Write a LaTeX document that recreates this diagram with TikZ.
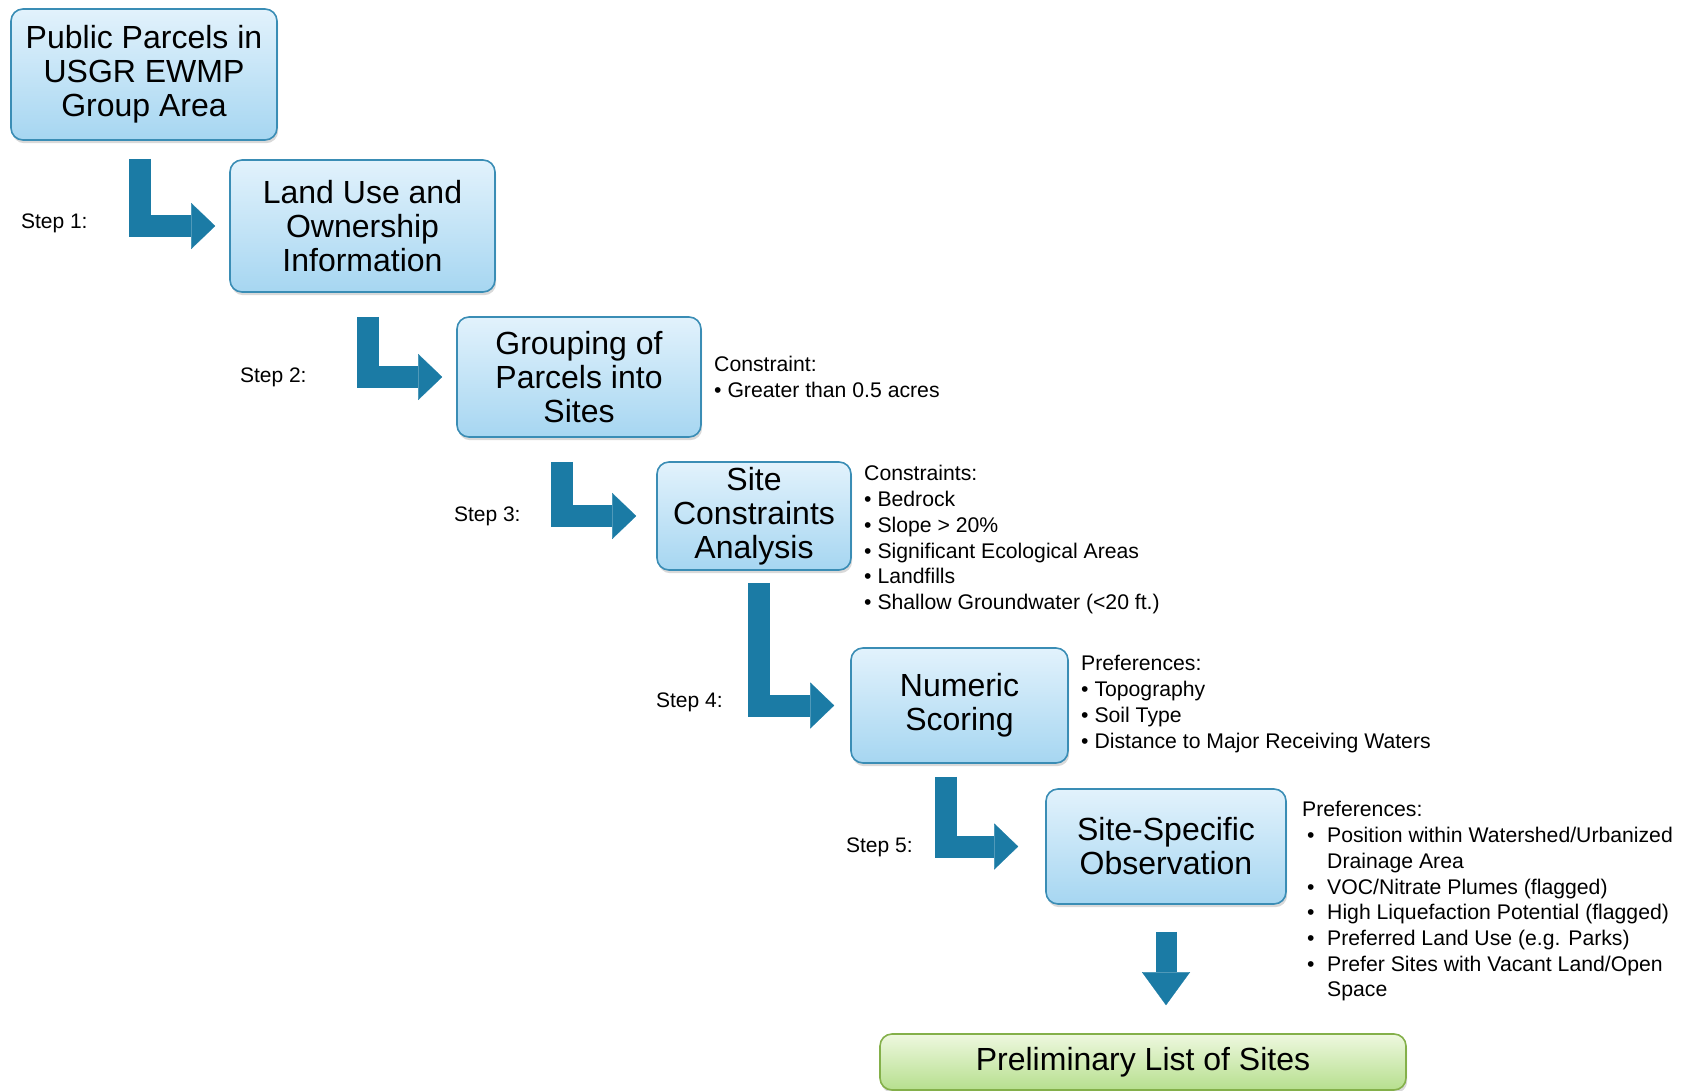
\documentclass[tikz,border=0pt]{standalone}
\usepackage{fontspec}
\setmainfont{Liberation Sans}
\usetikzlibrary{positioning,arrows.meta,shadows}

\definecolor{boxedge}{HTML}{3A8DB5}
\definecolor{boxtop}{HTML}{E2F2FC}
\definecolor{boxbot}{HTML}{A6D6F1}
\definecolor{arrowblue}{HTML}{1B7BA5}
\definecolor{greenedge}{HTML}{84B04A}
\definecolor{greentop}{HTML}{EEF8DF}
\definecolor{greenbot}{HTML}{B6DF8E}

% hanging bullet for the last list
\newcommand{\pitem}{\hspace*{2.5pt}\makebox[10pt][l]{\textbullet}}
\newcommand{\pcont}{\hspace*{12.5pt}}

\begin{document}
\begin{tikzpicture}[
  x=0.5pt, y=-0.5pt,
  stepbox/.style={rectangle, rounded corners=6pt, draw=boxedge, line width=0.8pt,
                  top color=boxtop, bottom color=boxbot, align=center, inner sep=2pt,
                  font=\fontsize{16}{17}\selectfont,
                  drop shadow={shadow xshift=0.6pt, shadow yshift=-1.6pt, opacity=0.3}},
  endbox/.style={stepbox, draw=greenedge, top color=greentop, bottom color=greenbot},
  steplbl/.style={font=\fontsize{10.5}{12}\selectfont, anchor=east, inner sep=0pt},
  note/.style={font=\fontsize{10.6}{12.85}\selectfont, align=left, inner sep=0pt,
               anchor=north west},
  steparrow/.style={draw=arrowblue, line width=11pt, line join=miter,
               -{Triangle[length=12pt, width=23pt, line width=0.1pt]}},
  downarrow/.style={draw=arrowblue, line width=10.5pt,
               -{Triangle[length=16.5pt, width=24pt, line width=0.1pt]}}
]
\useasboundingbox (0,0) rectangle (1686,1091);

% Staircase of steps
\node[stepbox, minimum width=133pt, minimum height=65.5pt] (pub) at (144,74.5)
  {Public Parcels in\\USGR EWMP\\Group Area};
\node[stepbox, minimum width=132.5pt, minimum height=66pt] (land) at (362.5,226)
  {Land Use and\\Ownership\\Information};
\node[stepbox, minimum width=122pt, minimum height=60pt] (grp) at (579,377)
  {Grouping of\\Parcels into\\Sites};
\node[stepbox, minimum width=97pt, minimum height=54pt] (scan) at (754,516)
  {Site\\Constraints\\Analysis};
\node[stepbox, minimum width=108.5pt, minimum height=57.5pt] (num) at (959.5,705.5)
  {Numeric\\Scoring};
\node[stepbox, minimum width=120pt, minimum height=57.5pt] (obs) at (1166,846.5)
  {Site-Specific\\Observation};
\node[endbox, minimum width=263pt, minimum height=28pt] (prelim) at (1143,1062)
  {Preliminary List of Sites};

% Step labels
\node[steplbl] (s1) at (88,223)  {Step 1:};
\node[steplbl] (s2) at (307,377) {Step 2:};
\node[steplbl] (s3) at (521,516) {Step 3:};
\node[steplbl] (s4) at (723,702) {Step 4:};
\node[steplbl] (s5) at (913,847) {Step 5:};

% Constraints and preferences
\node[note, right=6pt of grp] (cgrp)
  {Constraint:\\\textbullet\ Greater than 0.5 acres};
\node[note] (cscan) at ([xshift=6pt, yshift=-2pt]scan.north east)
  {Constraints:\\\textbullet\ Bedrock\\\textbullet\ Slope > 20\%\\
   \textbullet\ Significant Ecological Areas\\\textbullet\ Landfills\\
   \textbullet\ Shallow Groundwater (<20 ft.)};
\node[note] (pnum) at ([xshift=6pt, yshift=-4pt]num.north east)
  {Preferences:\\\textbullet\ Topography\\\textbullet\ Soil Type\\
   \textbullet\ Distance to Major Receiving Waters};
\node[note] (pobs) at ([xshift=7.5pt, yshift=-6.5pt]obs.north east)
  {Preferences:\\
   \pitem Position within Watershed/Urbanized\\
   \pcont Drainage Area\\
   \pitem VOC/Nitrate Plumes (flagged)\\
   \pitem High Liquefaction Potential (flagged)\\
   \pitem Preferred Land Use (e.g. Parks)\\
   \pitem Prefer Sites with Vacant Land/Open\\
   \pcont Space};

% Bent arrows between steps
\draw[steparrow] ([xshift=-2pt, yshift=-9pt]pub.south) |- ([xshift=-7pt]land.west);
\draw[steparrow] ([xshift=2.5pt, yshift=-12pt]land.south) |- ([xshift=-7pt]grp.west);
\draw[steparrow] ([xshift=-8.5pt, yshift=-12pt]grp.south) |- ([xshift=-10pt]scan.west);
\draw[steparrow] ([xshift=2.5pt, yshift=-6pt]scan.south) |- ([xshift=-8pt]num.west);
\draw[steparrow] ([xshift=-7pt, yshift=-6.5pt]num.south) |- ([xshift=-13.5pt]obs.west);

% Down to the final list
\coordinate (landing) at (obs.south |- prelim.north);
\draw[downarrow] ([yshift=-13.5pt]obs.south) -- ([yshift=14pt]landing);

\end{tikzpicture}
\end{document}
